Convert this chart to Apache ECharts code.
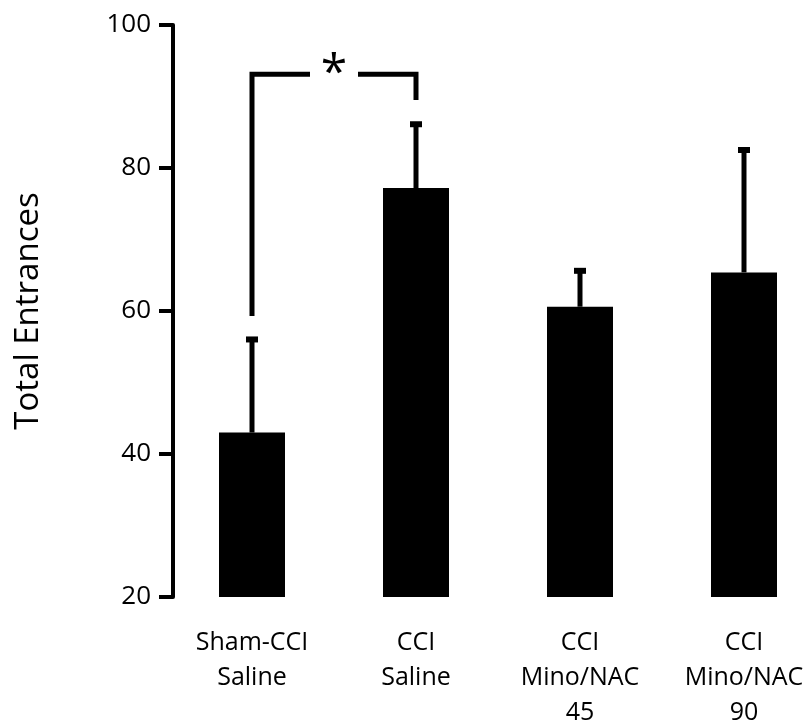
<!DOCTYPE html>
<html>
<head>
<meta charset="utf-8">
<script src="https://cdn.jsdelivr.net/npm/echarts@6/dist/echarts.min.js"></script>
<style>
  html, body { margin: 0; padding: 0; background: #ffffff; }
  #chartArea { width: 807px; height: 722px; }
</style>
</head>
<body>
<div id="chartArea"></div>
<script>
// values
var categories = ['Sham-CCI\nSaline', 'CCI\nSaline', 'CCI\nMino/NAC\n45', 'CCI\nMino/NAC\n90'];
var means = [43.0, 77.2, 60.6, 65.4];
var upper = [56.3, 86.4, 65.9, 82.8];
var yTicks = [20, 40, 60, 80, 100];

// significance bracket between Sham-CCI Saline and CCI Saline
var bracketFrom = 0;
var bracketTo = 1;
var bracketTop = 93.1;
var bracketLeftEnd = 59.3;
var bracketRightEnd = 89.5;
var bracketMark = '*';

var fontFamily = '"Open Sans", "Noto Sans", sans-serif';

var myChart = echarts.init(document.getElementById('chartArea'), null, { renderer: 'canvas' });

var errorData = means.map(function(m, i) {
    return [i, m, upper[i]];
});

function renderError(params, api) {
    var x = api.coord([api.value(0), api.value(1)])[0];
    var yLow = api.coord([api.value(0), api.value(1)])[1];
    var yHigh = api.coord([api.value(0), api.value(2)])[1];
    return {
        type: 'group',
        children: [
            {
                type: 'line',
                shape: { x1: x, y1: yLow, x2: x, y2: yHigh },
                style: { stroke: '#000', lineWidth: 5 }
            },
            {
                type: 'rect',
                shape: { x: x - 6, y: yHigh - 1, width: 12, height: 6 },
                style: { fill: '#000' }
            }
        ]
    };
}

function renderBracket(params, api) {
    var pA = api.coord([bracketFrom, bracketTop]);
    var pB = api.coord([bracketTo, bracketTop]);
    var aEnd = api.coord([bracketFrom, bracketLeftEnd]);
    var bEnd = api.coord([bracketTo, bracketRightEnd]);
    var mid = (pA[0] + pB[0]) / 2;
    var gap = 24;
    return {
        type: 'group',
        children: [
            {
                type: 'polyline',
                shape: { points: [[aEnd[0], aEnd[1]], [pA[0], pA[1]], [mid - gap, pA[1]]] },
                style: { stroke: '#000', lineWidth: 5, fill: null, lineJoin: 'miter' }
            },
            {
                type: 'polyline',
                shape: { points: [[mid + gap, pB[1]], [pB[0], pB[1]], [bEnd[0], bEnd[1]]] },
                style: { stroke: '#000', lineWidth: 5, fill: null, lineJoin: 'miter' }
            },
            {
                type: 'text',
                x: mid,
                y: pA[1],
                style: {
                    text: bracketMark,
                    fill: '#000',
                    font: '48px ' + fontFamily,
                    align: 'center',
                    verticalAlign: 'middle'
                }
            }
        ]
    };
}

var option = {
    animation: false,
    backgroundColor: '#ffffff',
    grid: {
        left: 170,
        top: 25,
        width: 656,
        bottom: 125,
        outerBoundsMode: 'none',
        containLabel: false
    },
    xAxis: {
        type: 'category',
        data: categories,
        axisLine: { show: false },
        axisTick: { show: false },
        axisLabel: {
            color: '#000',
            fontFamily: fontFamily,
            fontSize: 25,
            lineHeight: 35,
            margin: 28,
            interval: 0
        }
    },
    yAxis: {
        type: 'value',
        min: yTicks[0],
        max: yTicks[yTicks.length - 1],
        interval: 20,
        offset: -3,
        name: 'Total Entrances',
        nameLocation: 'middle',
        nameGap: 128,
        nameTextStyle: {
            color: '#000',
            fontFamily: fontFamily,
            fontSize: 33
        },
        axisLine: { show: true, lineStyle: { color: '#000', width: 4 } },
        axisTick: { show: true, length: 14, lineStyle: { color: '#000', width: 4 } },
        splitLine: { show: false },
        axisLabel: {
            color: '#000',
            fontFamily: fontFamily,
            fontSize: 26,
            margin: 22
        }
    },
    series: [
        {
            type: 'bar',
            data: means,
            barWidth: 66,
            itemStyle: { color: '#000' },
            z: 2
        },
        {
            type: 'custom',
            data: errorData,
            renderItem: renderError,
            z: 3
        },
        {
            type: 'custom',
            data: [[bracketFrom, bracketTop]],
            renderItem: renderBracket,
            z: 4
        }
    ]
};

myChart.setOption(option);
</script>
</body>
</html>
